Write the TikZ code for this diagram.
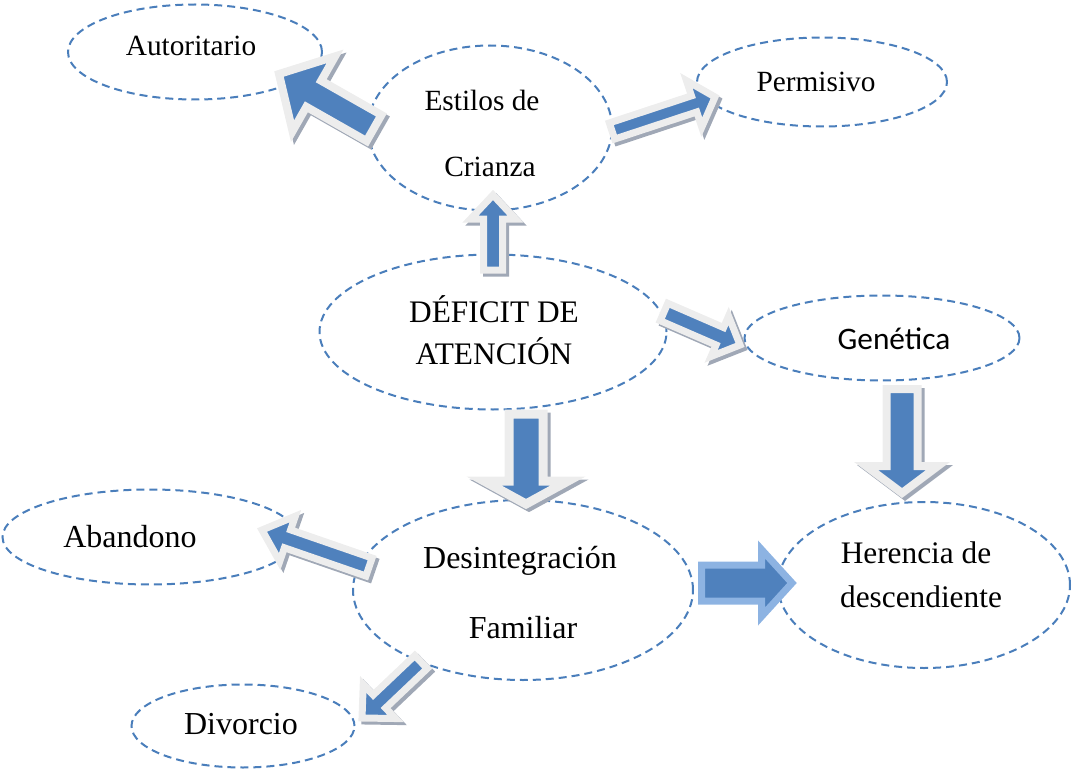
\documentclass[tikz,border=0pt]{standalone}
\usepackage{fontspec}
\setmainfont{Liberation Serif}
\newfontfamily\calibrifont{Carlito}
\usetikzlibrary{shapes.geometric,calc}
\definecolor{ellblue}{RGB}{74,126,187}
\definecolor{arrowblue}{RGB}{79,129,189}
\definecolor{bordergray}{RGB}{237,237,237}
\definecolor{shadowgray}{RGB}{160,168,182}
\definecolor{lightblueborder}{RGB}{141,179,226}
\tikzset{
  ell/.style={ellipse, draw=ellblue, line width=1.5pt, dash pattern=on 6pt off 3.75pt, inner sep=0pt},
  lbl/.style={inner sep=0pt, anchor=base, font=\fontsize{22}{26}\selectfont},
  lbllarge/.style={inner sep=0pt, anchor=base, font=\fontsize{24}{28}\selectfont},
  biglbl/.style={inner sep=0pt, anchor=base, font=\fontsize{23.5}{28}\selectfont},
  sanslbl/.style={inner sep=0pt, anchor=base, font=\calibrifont\fontsize{23.5}{28}\selectfont},
  barrowbody/.style={fill=arrowblue, draw=bordergray, line join=miter, line width=#1*0.75pt},
  bshadow/.style={fill=shadowgray, draw=shadowgray, line join=miter, line width=#1*0.75pt, transform canvas={shift={(3,3)}}},
  blueborder/.style={fill=arrowblue, draw=lightblueborder, line join=miter, line width=#1*0.75pt},
}
% #1 options, #2 from, #3 to, #4 shaft half width (px), #5 head half width (px), #6 head length (px)
\newcommand{\blockpath}[6]{%
  \coordinate (hb) at ($(#3)!#6*0.75pt!(#2)$);
  \path[#1] ($(#2)!#4*0.75pt!90:(#3)$) -- ($(hb)!#4*0.75pt!90:(#3)$) -- ($(hb)!#5*0.75pt!90:(#3)$) -- (#3)
    -- ($(hb)!#5*0.75pt!-90:(#3)$) -- ($(hb)!#4*0.75pt!-90:(#3)$) -- ($(#2)!#4*0.75pt!-90:(#3)$) -- cycle;
}
% #1 border width px, then from, to, w, W, h
\newcommand{\blockarrow}[6]{%
  \blockpath{bshadow=#1}{#2}{#3}{#4}{#5}{#6}
  \blockpath{barrowbody=#1}{#2}{#3}{#4}{#5}{#6}
}
\begin{document}
\begin{tikzpicture}[x=0.75pt,y=-0.75pt]
\useasboundingbox (0,0) rectangle (1072,774);

% ellipses
\node[ell, minimum width=254*0.75pt, minimum height=95*0.75pt]  (autor)   at (195,52)  {};
\node[ell, minimum width=244*0.75pt, minimum height=165*0.75pt] (estilos) at (490,128) {};
\node[ell, minimum width=250*0.75pt, minimum height=89*0.75pt]  (permis)  at (822,82)  {};
\node[ell, minimum width=347*0.75pt, minimum height=155*0.75pt] (deficit) at (493,332) {};
\node[ell, minimum width=275*0.75pt, minimum height=85*0.75pt]  (genet)   at (882,338) {};
\node[ell, minimum width=295*0.75pt, minimum height=95*0.75pt]  (aband)   at (150,537) {};
\node[ell, minimum width=340*0.75pt, minimum height=180*0.75pt] (desint)  at (523,590) {};
\node[ell, minimum width=292*0.75pt, minimum height=166*0.75pt] (heren)   at (924,585) {};
\node[ell, minimum width=223*0.75pt, minimum height=83*0.75pt]  (divor)   at (243,726) {};

% arrow end points
\coordinate (estilos-autor-s) at (374,128);
\coordinate (estilos-autor-e) at (279,74);
\coordinate (estilos-permis-s) at (612,131);
\coordinate (estilos-permis-e) at (715,97);
\coordinate (deficit-estilos-s) at (493,270);
\coordinate (deficit-estilos-e) at (493,195);
\coordinate (deficit-genet-s) at (664,312);
\coordinate (deficit-genet-e) at (740,345);
\coordinate (deficit-desint-s) at (526,414);
\coordinate (deficit-desint-e) at (526,504);
\coordinate (genet-heren-s) at (902,389);
\coordinate (genet-heren-e) at (902,493);
\coordinate (desint-heren-s) at (701.5,583);
\coordinate (desint-heren-e) at (792,583);
\coordinate (desint-aband-s) at (369,567);
\coordinate (desint-aband-e) at (262,530);
\coordinate (desint-divor-s) at (421,662);
\coordinate (desint-divor-e) at (362,718);

% block arrows
\blockarrow{8}{estilos-autor-s}{estilos-autor-e}{15}{43}{40}
\blockarrow{7}{estilos-permis-s}{estilos-permis-e}{8.5}{24.5}{22}
\blockarrow{7}{deficit-estilos-s}{deficit-estilos-e}{9.5}{22.5}{24}
\blockarrow{7}{deficit-genet-s}{deficit-genet-e}{9.5}{22}{22}
\blockarrow{9}{deficit-desint-s}{deficit-desint-e}{17}{42}{23}
\blockarrow{8}{genet-heren-s}{genet-heren-e}{15.5}{36}{27}
\blockpath{blueborder=7}{desint-heren-s}{desint-heren-e}{18}{33.5}{30.5}
\blockarrow{7}{desint-aband-s}{desint-aband-e}{9.5}{24}{27}
\blockarrow{7}{desint-divor-s}{desint-divor-e}{9}{23.5}{24}

% labels
\node[lbl] (autor-t) at (191,56) {Autoritario};
\node[lbl] (estilos-t1) at (482,111) {Estilos de};
\node[lbl] (estilos-t2) at (490,176) {Crianza};
\node[lbl] (permis-t) at (816,92) {Permisivo};
\node[biglbl] (deficit-t1) at (494,322) {DÉFICIT DE};
\node[biglbl] (deficit-t2) at (494,364) {ATENCIÓN};
\node[sanslbl] (genet-t) at (894,349) {Genética};
\node[lbllarge] (aband-t) at (130,547) {Abandono};
\node[lbllarge] (desint-t1) at (520,568) {Desintegración};
\node[lbllarge] (desint-t2) at (523,638) {Familiar};
\node[biglbl] (heren-t1) at (916,563) {Herencia de};
\node[biglbl] (heren-t2) at (921,607) {descendiente};
\node[lbllarge] (divor-t) at (241,734) {Divorcio};
\end{tikzpicture}
\end{document}
